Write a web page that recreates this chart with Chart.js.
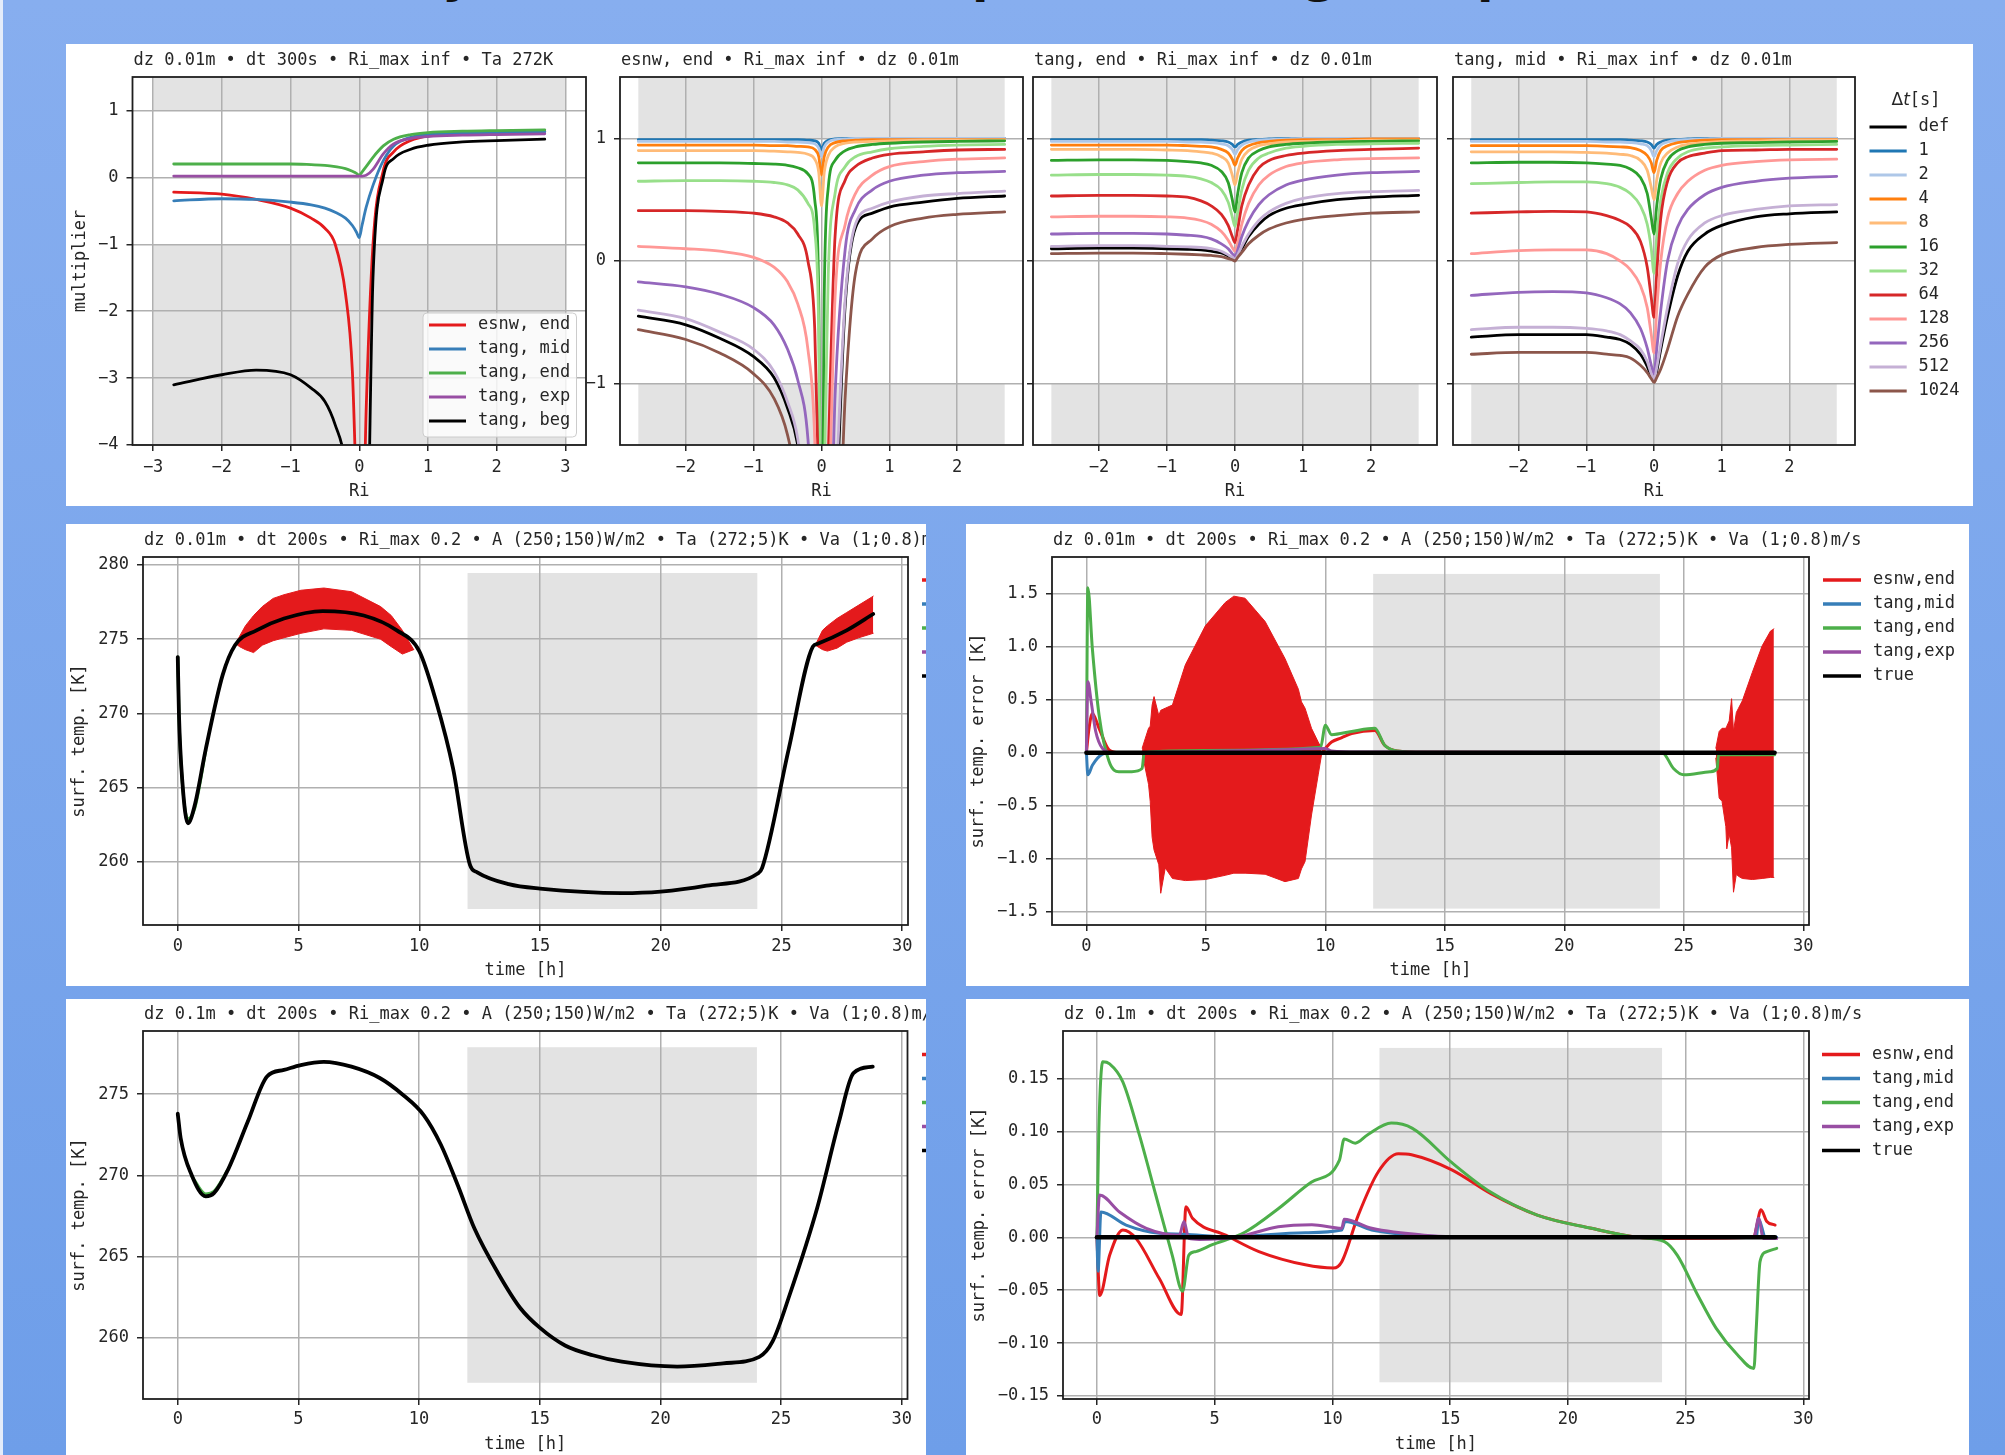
<!DOCTYPE html>
<html>
<head>
<meta charset="utf-8">
<title>Ri multiplier and surface temperature tests</title>
<script src="https://cdn.jsdelivr.net/npm/chart.js@4.4.1/dist/chart.umd.min.js"></script>
<style>
  html, body { margin: 0; padding: 0; }
  body { width: 2005px; height: 1455px; position: relative; overflow: hidden;
         background: linear-gradient(to bottom, #87aeef, #6e9ee9); }
  .edge { position: absolute; left: 0; top: 0; width: 3px; height: 1455px; background: #e4ecfa; }
  .panel { position: absolute; background: #fff; }
  .head { position: absolute; top: -49px; font: bold 48px/48px "DejaVu Sans", sans-serif; color: #111; }
  canvas { position: absolute; }
</style>
</head>
<body>
<div class="edge"></div>
<div class="panel" style="left:66px;top:44px;width:1907px;height:462px"></div>
<div class="panel" style="left:66px;top:524px;width:860px;height:462px"></div>
<div class="panel" style="left:966px;top:524px;width:1003px;height:462px"></div>
<div class="panel" style="left:66px;top:999px;width:860px;height:456px"></div>
<div class="panel" style="left:966px;top:999px;width:1003px;height:456px"></div>
<div class="head" style="left:442px">y</div>
<div class="head" style="left:972px">p</div>
<div class="head" style="left:1303px">g</div>
<div class="head" style="left:1477px">p</div>
<script>
// ---------- top row: multiplier vs Ri ----------
const RI = [-2.7, -2, -1.5, -1, -0.7, -0.5, -0.35, -0.2, -0.1, -0.04, 0, 0.04, 0.1, 0.2, 0.35, 0.5, 0.75, 1, 1.5, 2, 2.7];
const riTicksWide = [-3, -2, -1, 0, 1, 2, 3];
const riTicks = [-2, -1, 0, 1, 2];
const multTicksWide = [-4, -3, -2, -1, 0, 1];
const multTicks = [-1, 0, 1];

const schemeLabels = ['esnw, end', 'tang, mid', 'tang, end', 'tang, exp', 'tang, beg'];
const schemeColors = ['#e41a1c', '#377eb8', '#4daf4a', '#984ea3', '#000000'];
const multEsnwEnd = [-0.22, -0.25, -0.33, -0.46, -0.61, -0.76, -1.0, -1.74, -2.9, -4.8, -6, -6, -3.5, -1.0, 0.1, 0.38, 0.55, 0.62, 0.66, 0.68, 0.69];
const multTangMid = [-0.35, -0.32, -0.33, -0.37, -0.41, -0.46, -0.52, -0.61, -0.72, -0.82, -0.9, -0.72, -0.45, -0.12, 0.25, 0.47, 0.6, 0.64, 0.66, 0.67, 0.68];
const multTangEnd = [0.2, 0.2, 0.2, 0.2, 0.19, 0.18, 0.16, 0.13, 0.09, 0.06, 0.03, 0.08, 0.16, 0.3, 0.47, 0.57, 0.64, 0.67, 0.69, 0.7, 0.71];
const multTangExp = [0.02, 0.02, 0.02, 0.02, 0.02, 0.02, 0.02, 0.02, 0.02, 0.02, 0.02, 0.02, 0.03, 0.12, 0.35, 0.5, 0.58, 0.61, 0.63, 0.64, 0.65];
const multTangBeg = [-3.1, -2.95, -2.88, -2.95, -3.15, -3.35, -3.7, -4.3, -5.5, -6, -6, -6, -6, -1.5, 0.0, 0.28, 0.42, 0.48, 0.53, 0.55, 0.57];

const dtLabels = ['def', '1', '2', '4', '8', '16', '32', '64', '128', '256', '512', '1024'];
const dtColors = ['#000000', '#1f77b4', '#aec7e8', '#ff7f0e', '#ffbb78', '#2ca02c', '#98df8a', '#d62728', '#ff9896', '#9467bd', '#c5b0d5', '#8c564b'];

// rows follow dtLabels
const esnwEndRows = [
  [-0.45, -0.52, -0.63, -0.78, -0.95, -1.2, -1.5, -2.2, -3, -3, -3, -3, -3, -2.2, -0.35, 0.27, 0.39, 0.44, 0.48, 0.51, 0.53],
  [0.99, 0.99, 0.99, 0.99, 0.99, 0.99, 0.99, 0.985, 0.98, 0.96, 0.91, 0.96, 0.985, 0.995, 1, 1, 1, 1, 1, 1, 1],
  [0.975, 0.975, 0.975, 0.975, 0.975, 0.97, 0.97, 0.965, 0.955, 0.92, 0.85, 0.93, 0.97, 0.99, 0.995, 1, 1, 1, 1, 1, 1],
  [0.945, 0.945, 0.945, 0.945, 0.94, 0.94, 0.935, 0.93, 0.91, 0.85, 0.7, 0.85, 0.93, 0.965, 0.98, 0.985, 0.99, 0.99, 0.99, 0.99, 0.99],
  [0.9, 0.9, 0.9, 0.9, 0.895, 0.89, 0.885, 0.87, 0.83, 0.72, 0.45, 0.72, 0.86, 0.93, 0.96, 0.97, 0.975, 0.98, 0.985, 0.985, 0.985],
  [0.8, 0.8, 0.8, 0.795, 0.79, 0.78, 0.76, 0.71, 0.5, -0.3, -3, -0.3, 0.6, 0.82, 0.9, 0.93, 0.95, 0.96, 0.97, 0.975, 0.98],
  [0.65, 0.655, 0.655, 0.65, 0.64, 0.62, 0.58, 0.47, 0.25, -0.6, -3, -1.8, -0.1, 0.55, 0.77, 0.85, 0.89, 0.915, 0.935, 0.945, 0.95],
  [0.41, 0.41, 0.405, 0.39, 0.36, 0.31, 0.22, 0.0, -0.55, -1.9, -3, -3, -1.6, 0.2, 0.66, 0.77, 0.84, 0.87, 0.89, 0.905, 0.91],
  [0.12, 0.1, 0.08, 0.03, -0.05, -0.17, -0.35, -0.72, -1.45, -3, -3, -3, -2.2, -0.3, 0.3, 0.55, 0.7, 0.77, 0.81, 0.83, 0.84],
  [-0.17, -0.21, -0.27, -0.38, -0.52, -0.72, -0.97, -1.45, -2.5, -3, -3, -3, -3, -1.1, 0.1, 0.42, 0.58, 0.65, 0.7, 0.72, 0.73],
  [-0.4, -0.47, -0.58, -0.72, -0.9, -1.15, -1.45, -2.2, -3, -3, -3, -3, -3, -2, -0.3, 0.3, 0.43, 0.48, 0.53, 0.55, 0.57],
  [-0.56, -0.64, -0.75, -0.92, -1.12, -1.42, -1.9, -3, -3, -3, -3, -3, -3, -3, -1.1, -0.1, 0.18, 0.28, 0.35, 0.38, 0.4]
];
const tangEndRows = [
  [0.1, 0.105, 0.105, 0.1, 0.095, 0.09, 0.08, 0.065, 0.04, 0.02, 0.01, 0.04, 0.1, 0.2, 0.3, 0.37, 0.43, 0.46, 0.5, 0.52, 0.535],
  [0.99, 0.99, 0.99, 0.99, 0.99, 0.99, 0.985, 0.98, 0.97, 0.95, 0.93, 0.95, 0.97, 0.985, 0.99, 0.995, 1, 1, 1, 1, 1],
  [0.975, 0.975, 0.975, 0.975, 0.97, 0.97, 0.965, 0.955, 0.94, 0.91, 0.87, 0.91, 0.945, 0.97, 0.985, 0.99, 0.995, 1, 1, 1, 1],
  [0.945, 0.945, 0.945, 0.945, 0.94, 0.935, 0.93, 0.91, 0.88, 0.83, 0.78, 0.84, 0.9, 0.94, 0.965, 0.975, 0.985, 0.99, 0.99, 0.995, 0.995],
  [0.91, 0.91, 0.91, 0.905, 0.9, 0.89, 0.88, 0.85, 0.8, 0.7, 0.62, 0.72, 0.83, 0.9, 0.94, 0.955, 0.97, 0.975, 0.98, 0.985, 0.985],
  [0.82, 0.825, 0.825, 0.82, 0.81, 0.8, 0.78, 0.73, 0.64, 0.5, 0.4, 0.55, 0.72, 0.84, 0.9, 0.93, 0.95, 0.96, 0.97, 0.975, 0.98],
  [0.7, 0.705, 0.705, 0.7, 0.69, 0.67, 0.64, 0.58, 0.48, 0.36, 0.28, 0.4, 0.58, 0.74, 0.84, 0.88, 0.92, 0.935, 0.95, 0.955, 0.96],
  [0.53, 0.535, 0.535, 0.53, 0.52, 0.49, 0.45, 0.38, 0.29, 0.2, 0.15, 0.26, 0.45, 0.62, 0.76, 0.82, 0.86, 0.88, 0.9, 0.91, 0.92],
  [0.36, 0.365, 0.365, 0.36, 0.35, 0.33, 0.3, 0.24, 0.17, 0.11, 0.08, 0.15, 0.3, 0.47, 0.62, 0.7, 0.77, 0.8, 0.825, 0.835, 0.84],
  [0.22, 0.225, 0.225, 0.22, 0.21, 0.2, 0.18, 0.14, 0.1, 0.06, 0.04, 0.09, 0.2, 0.33, 0.46, 0.54, 0.62, 0.66, 0.7, 0.72, 0.73],
  [0.12, 0.125, 0.125, 0.12, 0.115, 0.11, 0.1, 0.08, 0.05, 0.03, 0.01, 0.05, 0.12, 0.22, 0.33, 0.4, 0.47, 0.51, 0.55, 0.565, 0.575],
  [0.06, 0.065, 0.065, 0.06, 0.055, 0.05, 0.045, 0.035, 0.02, 0.01, 0.0, 0.03, 0.07, 0.14, 0.21, 0.26, 0.31, 0.34, 0.37, 0.39, 0.4]
];
const tangMidRows = [
  [-0.62, -0.6, -0.6, -0.6, -0.62, -0.64, -0.68, -0.76, -0.86, -0.94, -0.98, -0.9, -0.72, -0.45, -0.12, 0.08, 0.22, 0.29, 0.36, 0.385, 0.4],
  [0.99, 0.99, 0.99, 0.99, 0.99, 0.99, 0.985, 0.98, 0.97, 0.95, 0.92, 0.95, 0.97, 0.985, 0.99, 0.995, 1, 1, 1, 1, 1],
  [0.975, 0.975, 0.975, 0.975, 0.97, 0.97, 0.965, 0.955, 0.94, 0.9, 0.85, 0.9, 0.945, 0.97, 0.985, 0.99, 0.995, 1, 1, 1, 1],
  [0.94, 0.94, 0.94, 0.94, 0.935, 0.93, 0.925, 0.9, 0.86, 0.8, 0.72, 0.82, 0.9, 0.94, 0.965, 0.975, 0.985, 0.99, 0.99, 0.99, 0.99],
  [0.89, 0.89, 0.89, 0.885, 0.88, 0.87, 0.86, 0.82, 0.74, 0.6, 0.5, 0.66, 0.8, 0.88, 0.93, 0.95, 0.965, 0.975, 0.98, 0.985, 0.985],
  [0.8, 0.805, 0.805, 0.8, 0.79, 0.78, 0.75, 0.68, 0.55, 0.35, 0.22, 0.45, 0.67, 0.82, 0.9, 0.93, 0.95, 0.96, 0.965, 0.97, 0.975],
  [0.63, 0.64, 0.645, 0.645, 0.63, 0.6, 0.55, 0.45, 0.3, 0.1, -0.1, 0.2, 0.5, 0.72, 0.84, 0.89, 0.92, 0.93, 0.94, 0.945, 0.95],
  [0.39, 0.4, 0.405, 0.4, 0.37, 0.33, 0.28, 0.16, -0.05, -0.3, -0.46, -0.1, 0.35, 0.65, 0.8, 0.85, 0.88, 0.9, 0.905, 0.91, 0.91],
  [0.06, 0.085, 0.09, 0.09, 0.06, 0.0, -0.07, -0.2, -0.38, -0.6, -0.75, -0.4, 0.0, 0.35, 0.55, 0.65, 0.74, 0.78, 0.81, 0.825, 0.83],
  [-0.28, -0.255, -0.25, -0.26, -0.3, -0.35, -0.42, -0.55, -0.71, -0.85, -0.92, -0.72, -0.4, 0.0, 0.28, 0.42, 0.54, 0.6, 0.65, 0.675, 0.69],
  [-0.56, -0.54, -0.54, -0.55, -0.57, -0.6, -0.65, -0.72, -0.82, -0.92, -0.97, -0.87, -0.68, -0.38, -0.02, 0.17, 0.31, 0.37, 0.42, 0.45, 0.46],
  [-0.76, -0.745, -0.745, -0.745, -0.76, -0.77, -0.79, -0.85, -0.91, -0.96, -0.99, -0.95, -0.88, -0.72, -0.45, -0.27, -0.05, 0.05, 0.11, 0.135, 0.15]
];

// ---------- middle / bottom rows: time series ----------
const timeTicks = [0, 5, 10, 15, 20, 25, 30];
const nightSpan = [12, 24];
const runLabels = ['esnw,end', 'tang,mid', 'tang,end', 'tang,exp', 'true'];
const runColors = ['#e41a1c', '#377eb8', '#4daf4a', '#984ea3', '#000000'];

// dz 0.01m, surface temperature
const tempTicksA = [260, 265, 270, 275, 280];
const tTrueA = [0, 0.05, 0.19, 0.42, 0.7, 1.16, 1.86, 2.37, 3.26, 4.4, 6.0, 7.7, 9.07, 10.0, 10.7, 11.4, 12.1, 12.4, 13.7, 15.0, 18.4, 20.0, 21.9, 24.0, 24.2, 25.3, 26.3, 26.5, 27.7, 28.8];
const TTrueA = [273.8, 269.9, 265.4, 262.6, 263.8, 267.6, 272.6, 274.6, 275.6, 276.4, 276.9, 276.6, 275.6, 274.2, 270.8, 266.3, 259.8, 259.3, 258.5, 258.2, 257.9, 258.0, 258.4, 259.2, 259.6, 267.6, 274.5, 274.7, 275.6, 276.7];
const tGreenA = [0, 0.05, 0.19, 0.42, 0.7, 1.16];
const TGreenA = [273.8, 269.8, 265.3, 262.9, 263.6, 267.5];
const tBandA1 = [2.4, 2.56, 2.8, 3.14, 3.5, 3.95, 4.4, 5.1, 6.05, 7.2, 8.4, 8.84, 9.3, 9.77];
const TBandA1Up = [274.7, 275.2, 275.9, 276.6, 277.2, 277.75, 278.0, 278.3, 278.45, 278.2, 277.2, 276.6, 275.6, 274.3];
const TBandA1Lo = [274.7, 274.5, 274.3, 274.1, 274.6, 274.9, 275.1, 275.4, 275.7, 275.6, 275.0, 274.5, 274.0, 274.3];
const tBandA2 = [26.4, 26.7, 26.9, 27.3, 27.7, 28.2, 28.8];
const TBandA2Up = [274.6, 275.6, 275.9, 276.4, 276.8, 277.3, 277.9];
const TBandA2Lo = [274.6, 274.3, 274.2, 274.4, 274.8, 275.1, 275.4];

// dz 0.01m, error
const errTicksA = [-1.5, -1.0, -0.5, 0.0, 0.5, 1.0, 1.5];
const tRedA = [0, 0.11, 0.25, 0.53, 0.95, 1.36, 2.4, 9.84, 10.0, 10.26, 10.67, 11.1, 12.07, 12.48, 13.0, 14.15, 26.34, 28.8];
const eRedA = [0, 0.23, 0.37, 0.23, 0.025, 0, 0, 0.0, 0.04, 0.1, 0.14, 0.18, 0.21, 0.07, 0.016, 0.003, 0, 0];
const tBandC1 = [2.33, 2.6, 2.67, 2.75, 2.83, 3.03, 3.11, 3.3, 3.6, 4.14, 4.98, 5.81, 6.17, 6.64, 7.48, 8.31, 8.87, 9.0, 9.15, 9.42, 9.7, 9.84];
const eBandC1Up = [0.04, 0.23, 0.25, 0.45, 0.53, 0.35, 0.4, 0.42, 0.45, 0.83, 1.2, 1.42, 1.48, 1.46, 1.24, 0.89, 0.6, 0.48, 0.42, 0.23, 0.1, 0.04];
const eBandC1Lo = [0.0, -0.3, -0.46, -0.8, -0.92, -1.06, -1.33, -1.09, -1.19, -1.21, -1.2, -1.16, -1.14, -1.14, -1.15, -1.22, -1.19, -1.1, -1.03, -0.59, -0.21, -0.02];
const tBandC2 = [26.34, 26.48, 26.6, 26.76, 26.8, 26.9, 27.0, 27.08, 27.2, 27.29, 27.45, 27.87, 28.28, 28.63, 28.77];
const eBandC2Up = [0.04, 0.2, 0.23, 0.23, 0.25, 0.3, 0.51, 0.2, 0.38, 0.42, 0.49, 0.76, 1.01, 1.15, 1.17];
const eBandC2Lo = [-0.05, -0.43, -0.46, -0.7, -0.91, -0.77, -0.9, -1.32, -1.15, -1.17, -1.19, -1.2, -1.19, -1.18, -1.18];
const tBlueA = [0, 0.06, 0.25, 0.67, 1.08, 28.8];
const eBlueA = [0, -0.21, -0.12, -0.015, 0, 0];
const tGreenErrA = [0, 0.06, 0.25, 0.53, 0.95, 1.36, 1.9, 2.33, 2.42, 5.0, 9.8, 10.0, 10.26, 11.1, 12.07, 12.48, 13.0, 14.15, 24.1, 24.57, 25.0, 26.1, 26.4, 26.45, 28.8];
const eGreenErrA = [0, 1.56, 0.98, 0.355, -0.085, -0.18, -0.18, -0.15, 0, 0.02, 0.05, 0.26, 0.17, 0.2, 0.23, 0.07, 0.016, 0.003, 0, -0.15, -0.21, -0.18, -0.15, -0.02, -0.02];
const tPurpleA = [0, 0.06, 0.2, 0.39, 0.67, 1.08, 8.5, 10.0, 10.26, 11.5, 28.8];
const ePurpleA = [0, 0.67, 0.48, 0.2, 0.04, 0, 0.03, 0.04, 0.015, 0.005, 0];
const tTrueErr = [0, 28.8];
const eTrueErr = [0, 0];

// dz 0.1m, surface temperature
const tempTicksB = [260, 265, 270, 275];
const tTrueB = [0, 0.12, 0.58, 1.16, 1.5, 2.1, 2.9, 3.7, 4.4, 5.1, 6.05, 7.2, 8.37, 9.3, 10.2, 10.9, 11.6, 12.3, 13.3, 14.2, 15.0, 16.05, 17.2, 18.4, 20.7, 22.6, 24.1, 24.65, 25.35, 26.5, 27.4, 28.0, 28.8];
const TTrueB = [273.8, 272.3, 270.0, 268.7, 268.9, 270.4, 273.3, 276.1, 276.5, 276.8, 277.0, 276.7, 276.0, 275.0, 273.7, 271.9, 269.4, 266.7, 263.9, 261.8, 260.6, 259.5, 258.9, 258.5, 258.2, 258.4, 258.8, 259.75, 262.6, 268.0, 273.3, 276.3, 276.7];
const tGreenB = [0.58, 1.16, 1.5, 2.1];
const TGreenB = [269.95, 268.85, 269.0, 270.4];

// dz 0.1m, error
const errTicksB = [-0.15, -0.10, -0.05, 0.00, 0.05, 0.10, 0.15];
const tRedB = [0, 0.12, 0.54, 1.1, 1.66, 2.65, 3.58, 3.78, 4.06, 5.47, 6.88, 8.85, 10.04, 10.4, 11.1, 11.95, 12.8, 13.36, 15.05, 16.75, 18.7, 21.0, 22.95, 24.1, 27.9, 28.0, 28.2, 28.45, 28.8];
const eRedB = [0, -0.055, -0.017, 0.007, -0.001, -0.039, -0.073, 0.029, 0.018, 0.002, -0.0135, -0.026, -0.029, -0.023, 0.021, 0.062, 0.079, 0.078, 0.064, 0.041, 0.021, 0.0085, 0, -0.001, 0, 0.0085, 0.026, 0.015, 0.0116];
const tBlueB = [0, 0.05, 0.17, 1.24, 2.65, 3.7, 5.47, 8.85, 10.4, 10.54, 11.67, 13.9, 16.7, 28.0, 28.1, 28.4, 28.87];
const eBlueB = [0, -0.032, 0.024, 0.0116, 0.0038, 0.003, 0.0006, 0.0044, 0.0069, 0.015, 0.007, 0.0016, 0, 0, 0.017, 0, 0];
const tGreenErrB = [0, 0.08, 0.25, 0.54, 1.1, 1.8, 2.5, 3.2, 3.64, 3.9, 4.2, 4.9, 6.3, 7.7, 9.1, 10.3, 10.5, 10.97, 11.5, 12.5, 13.4, 15.05, 16.7, 18.7, 21.0, 22.95, 24.1, 24.65, 25.5, 26.3, 27.2, 27.9, 28.0, 28.16, 28.45, 28.87];
const eGreenErrB = [0, 0.1, 0.166, 0.164, 0.147, 0.097, 0.04, -0.017, -0.051, -0.017, -0.0135, -0.007, 0.005, 0.027, 0.052, 0.073, 0.093, 0.089, 0.097, 0.108, 0.103, 0.071, 0.043, 0.021, 0.0085, 0, -0.004, -0.017, -0.054, -0.086, -0.111, -0.124, -0.086, -0.023, -0.0135, -0.0104];
const tPurpleB = [0, 0.11, 0.96, 2.1, 3.5, 3.7, 3.9, 4.35, 6.0, 7.7, 9.13, 10.4, 10.5, 11.67, 13.9, 16.7, 27.9, 28.1, 28.3, 28.87];
const ePurpleB = [0, 0.04, 0.024, 0.0085, 0.002, 0.015, -0.001, -0.002, 0.0006, 0.01, 0.012, 0.0085, 0.017, 0.0085, 0.002, 0, 0, 0.018, -0.001, -0.001];

// ---------- helpers ----------
const FONT = '"DejaVu Sans Mono", monospace';
const INK = '#262626';
Chart.defaults.font.family = FONT;
Chart.defaults.font.size = 17;
Chart.defaults.color = INK;

const fmt = (d) => (v) => (v < 0 ? '\u2212' : '') + Math.abs(v).toFixed(d);

function pts(xs, ys) {
  return xs.map((x, i) => ({ x, y: ys[i] }));
}

let drawIndex = 0;
function line(xs, ys, color, width, smooth = true) {
  return {
    data: pts(xs, ys), borderColor: color, backgroundColor: color, borderWidth: width,
    pointRadius: 0, fill: false, tension: 0,
    cubicInterpolationMode: smooth ? 'monotone' : 'default',
    order: 1000 - (drawIndex++)
  };
}
function band(xs, up, lo, color) {
  const a = line(xs, up, color, 1, false);
  const b = line(xs, lo, color, 1, false);
  b.fill = '-1';
  return [a, b];
}

function axis(min, max, ticks, dec, title, o = {}) {
  return {
    type: 'linear', min, max,
    afterBuildTicks: (s) => { s.ticks = ticks.map((v) => ({ value: v })); },
    ticks: { callback: fmt(dec), maxRotation: 0, minRotation: 0, autoSkip: false,
             padding: o.pad ?? 8, display: o.labels !== false, color: INK },
    grid: { color: '#b0b0b0', lineWidth: 1.5, tickLength: 6, tickColor: INK, tickWidth: 1.5 },
    border: { display: false },
    title: title ? { display: true, text: title, color: INK, font: { size: 17 },
                     padding: { top: o.tpad ?? 3, bottom: o.tpad ?? 3 } } : { display: false }
  };
}

function drawLegend(ctx, lg) {
  if (lg.box) {
    const [l, t, r, b] = lg.box;
    ctx.save();
    ctx.fillStyle = 'rgba(255,255,255,0.8)';
    ctx.strokeStyle = '#cccccc';
    ctx.lineWidth = 1;
    ctx.beginPath();
    ctx.roundRect(l, t, r - l, b - t, 4);
    ctx.fill();
    ctx.stroke();
    ctx.restore();
  }
  if (lg.head) {
    const h = lg.head;
    const parts = [['\u0394', '17px "DejaVu Sans"'], ['t', 'italic 17px "DejaVu Sans"'], ['[s]', '17px ' + FONT]];
    let w = 0;
    for (const p of parts) { ctx.font = p[1]; w += ctx.measureText(p[0]).width; }
    let x = h.x - w / 2;
    ctx.fillStyle = INK;
    ctx.textBaseline = 'middle';
    ctx.textAlign = 'left';
    for (const p of parts) { ctx.font = p[1]; ctx.fillText(p[0], x, h.y); x += ctx.measureText(p[0]).width; }
  }
  ctx.font = '17px ' + FONT;
  ctx.textBaseline = 'middle';
  ctx.textAlign = 'left';
  lg.labels.forEach((lab, i) => {
    const y = lg.ys[0] + i * lg.step;
    ctx.strokeStyle = lg.colors[i];
    ctx.lineWidth = lg.width;
    ctx.beginPath();
    ctx.moveTo(lg.x0, y);
    ctx.lineTo(lg.x1, y);
    ctx.stroke();
    ctx.fillStyle = INK;
    ctx.fillText(lab, lg.xt, y);
  });
}

function makeChart(box, plot, spec) {
  const cv = document.createElement('canvas');
  cv.width = box[2];
  cv.height = box[3];
  cv.style.left = box[0] + 'px';
  cv.style.top = box[1] + 'px';
  cv.style.width = box[2] + 'px';
  cv.style.height = box[3] + 'px';
  document.body.appendChild(cv);
  const yW = plot[0] - box[0];
  const xH = box[1] + box[3] - plot[3];

  const deco = {
    id: 'deco',
    beforeDraw(c) {
      const { ctx, chartArea: a, scales: { x, y } } = c;
      ctx.save();
      ctx.beginPath();
      ctx.rect(a.left, a.top, a.right - a.left, a.bottom - a.top);
      ctx.clip();
      ctx.fillStyle = '#e3e3e3';
      for (const r of spec.shade) {
        const x0 = x.getPixelForValue(r[0]), x1 = x.getPixelForValue(r[1]);
        const y0 = y.getPixelForValue(r[2]), y1 = y.getPixelForValue(r[3]);
        ctx.fillRect(x0, Math.min(y0, y1), x1 - x0, Math.abs(y1 - y0));
      }
      ctx.restore();
    },
    afterDatasetsDraw(c) {
      const { ctx, chartArea: a } = c;
      ctx.save();
      ctx.strokeStyle = '#1e1e1e';
      ctx.lineWidth = 1.8;
      ctx.strokeRect(a.left, a.top, a.right - a.left, a.bottom - a.top);
      ctx.restore();
    },
    afterDraw(c) {
      const { ctx, chartArea: a } = c;
      ctx.save();
      ctx.font = '17px ' + FONT;
      ctx.fillStyle = INK;
      ctx.textBaseline = 'middle';
      ctx.textAlign = 'left';
      ctx.fillText(spec.title, a.left + 1, spec.titleY);
      if (spec.legend) drawLegend(ctx, spec.legend);
      ctx.restore();
    }
  };

  return new Chart(cv, {
    type: 'line',
    data: { datasets: spec.datasets },
    options: {
      responsive: false,
      animation: false,
      devicePixelRatio: 1,
      layout: { padding: { left: 0, top: plot[1] - box[1], right: box[0] + box[2] - plot[2], bottom: 0 } },
      plugins: { legend: { display: false }, tooltip: { enabled: false } },
      elements: { point: { radius: 0 }, line: { borderJoinStyle: 'round', borderCapStyle: 'round' } },
      scales: {
        x: Object.assign(spec.x, { position: 'bottom', afterFit: (s) => { s.height = xH; } }),
        y: Object.assign(spec.y, { position: 'left', afterFit: (s) => { s.width = yW; } })
      }
    },
    plugins: [deco]
  });
}

// ---------- top row ----------
const riShadeWide = [[-3, 3, 1, 1.5], [-3, 3, -4, -1]];
const riShade = [[-2.7, 2.7, 1, 1.5], [-2.7, 2.7, -1.5, -1]];

drawIndex = 0;
const schemeRows = [multEsnwEnd, multTangMid, multTangEnd, multTangExp, multTangBeg];
makeChart([66, 44, 540, 462], [132.5, 77, 586, 445], {
  title: 'dz 0.01m \u2022 dt 300s \u2022 Ri_max inf \u2022 Ta 272K', titleY: 17,
  shade: riShadeWide,
  datasets: schemeRows.map((r, i) => line(RI, r, schemeColors[i], 2.8)),
  x: axis(-3.3, 3.3, riTicksWide, 0, 'Ri', { pad: 6, tpad: 4 }),
  y: axis(-4, 1.5, multTicksWide, 0, 'multiplier', { tpad: 4.5 }),
  legend: { labels: schemeLabels, colors: schemeColors, width: 3, x0: 363, x1: 400, xt: 412,
            ys: [281], step: 24, box: [357, 269, 510.5, 393] }
});

function dtPanel(box, plot, title, rows, labels, legend) {
  drawIndex = 0;
  return makeChart(box, plot, {
    title, titleY: 17, shade: riShade,
    datasets: rows.map((r, i) => line(RI, r, dtColors[i], 2.8)),
    x: axis(-2.97, 2.97, riTicks, 0, 'Ri', { pad: 6, tpad: 4 }),
    y: axis(-1.5, 1.5, multTicks, 0, null, { labels }),
    legend
  });
}
dtPanel([580, 44, 450, 462], [620, 77, 1023, 445], 'esnw, end \u2022 Ri_max inf \u2022 dz 0.01m', esnwEndRows, true, null);
dtPanel([1000, 44, 447, 462], [1033, 77, 1437, 445], 'tang, end \u2022 Ri_max inf \u2022 dz 0.01m', tangEndRows, false, null);
dtPanel([1420, 44, 553, 462], [1453, 77, 1855, 445], 'tang, mid \u2022 Ri_max inf \u2022 dz 0.01m', tangMidRows, false,
  { labels: dtLabels, colors: dtColors, width: 3, x0: 449.5, x1: 486.7, xt: 498.6, ys: [83], step: 24,
    head: { x: 496, y: 57 } });

// ---------- middle row ----------
const titleA = 'dz 0.01m \u2022 dt 200s \u2022 Ri_max 0.2 \u2022 A (250;150)W/m2 \u2022 Ta (272;5)K \u2022 Va (1;0.8)m/s';
const titleB = 'dz 0.1m \u2022 dt 200s \u2022 Ri_max 0.2 \u2022 A (250;150)W/m2 \u2022 Ta (272;5)K \u2022 Va (1;0.8)m/s';
const runLegend = (x0, ys) => ({ labels: runLabels, colors: runColors, width: 3.5, x0, x1: x0 + 38, xt: x0 + 50, ys: [ys], step: 24 });

drawIndex = 0;
makeChart([66, 524, 860, 462], [143, 557, 908, 925], {
  title: titleA, titleY: 17,
  shade: [[nightSpan[0], nightSpan[1], 256.83, 279.46]],
  datasets: [
    ...band(tBandA1, TBandA1Up, TBandA1Lo, runColors[0]),
    ...band(tBandA2, TBandA2Up, TBandA2Lo, runColors[0]),
    line(tGreenA, TGreenA, runColors[2], 3),
    line(tTrueA, TTrueA, runColors[4], 3.8)
  ],
  x: axis(-1.44, 30.24, timeTicks, 0, 'time [h]', { pad: 5.5, tpad: 4.8 }),
  y: axis(255.75, 280.54, tempTicksA, 0, 'surf. temp. [K]', { tpad: 3.4 }),
  legend: runLegend(856, 56)
});

drawIndex = 0;
makeChart([966, 524, 1003, 462], [1052, 557, 1809, 925], {
  title: titleA, titleY: 17,
  shade: [[nightSpan[0], nightSpan[1], -1.475, 1.69]],
  datasets: [
    ...band(tBandC1, eBandC1Up, eBandC1Lo, runColors[0]),
    ...band(tBandC2, eBandC2Up, eBandC2Lo, runColors[0]),
    line(tRedA, eRedA, runColors[0], 3),
    line(tBlueA, eBlueA, runColors[1], 3),
    line(tGreenErrA, eGreenErrA, runColors[2], 3),
    line(tPurpleA, ePurpleA, runColors[3], 3),
    line(tTrueErr, eTrueErr, runColors[4], 4.5)
  ],
  x: axis(-1.44, 30.24, timeTicks, 0, 'time [h]', { pad: 5.5, tpad: 4.8 }),
  y: axis(-1.63, 1.85, errTicksA, 1, 'surf. temp. error [K]', { tpad: 2.8 }),
  legend: runLegend(857, 56)
});

// ---------- bottom row ----------
drawIndex = 0;
makeChart([66, 999, 860, 456], [143, 1031, 907.5, 1399], {
  title: titleB, titleY: 16,
  shade: [[nightSpan[0], nightSpan[1], 257.2, 277.9]],
  datasets: [
    line(tGreenB, TGreenB, runColors[2], 3),
    line(tTrueB, TTrueB, runColors[4], 3.8)
  ],
  x: axis(-1.44, 30.24, timeTicks, 0, 'time [h]', { pad: 4.5, tpad: 0 }),
  y: axis(256.2, 278.9, tempTicksB, 0, 'surf. temp. [K]', { tpad: 3.4 }),
  legend: runLegend(856, 55.5)
});

drawIndex = 0;
makeChart([966, 999, 1003, 456], [1063, 1031, 1809, 1399], {
  title: titleB, titleY: 16,
  shade: [[nightSpan[0], nightSpan[1], -0.137, 0.179]],
  datasets: [
    line(tRedB, eRedB, runColors[0], 3),
    line(tBlueB, eBlueB, runColors[1], 3),
    line(tGreenErrB, eGreenErrB, runColors[2], 3),
    line(tPurpleB, ePurpleB, runColors[3], 3),
    line(tTrueErr, eTrueErr, runColors[4], 4.5)
  ],
  x: axis(-1.44, 30.24, timeTicks, 0, 'time [h]', { pad: 4.5, tpad: 0 }),
  y: axis(-0.1528, 0.195, errTicksB, 2, 'surf. temp. error [K]', { tpad: 3.8 }),
  legend: runLegend(856, 55.5)
});
</script>
</body>
</html>
